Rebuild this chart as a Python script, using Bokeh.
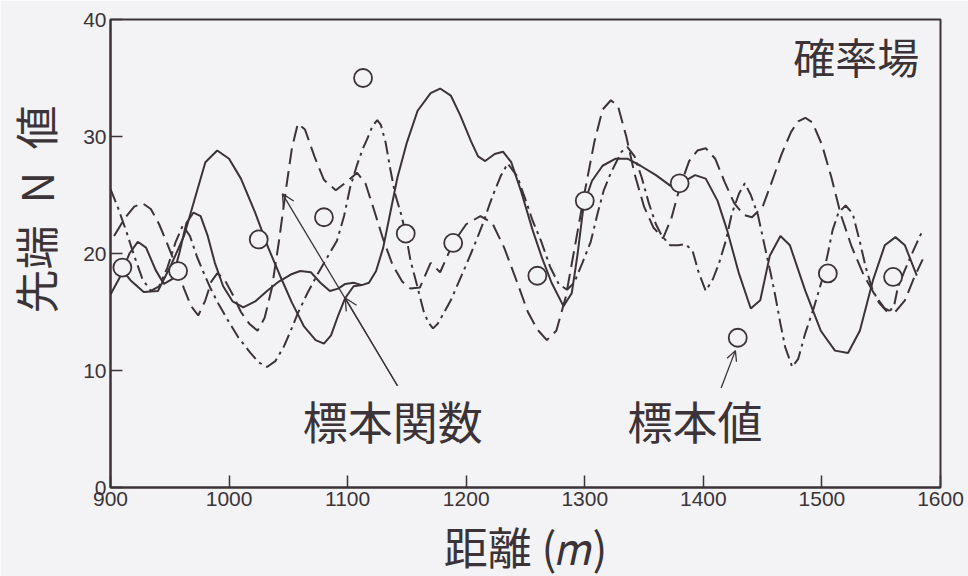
from bokeh.plotting import figure
from bokeh.models import Range1d, FixedTicker, Label, Arrow, OpenHead
from bokeh.embed import file_html
from bokeh.resources import INLINE

# ---- data ----
solid_a_x = [905, 917, 928, 940, 951, 962, 972, 980, 990, 1000, 1010, 1022, 1033, 1043, 1053, 1063, 1073, 1080,
             1086, 1092, 1098, 1105, 1112, 1118, 1124, 1130, 1136, 1142, 1150, 1159, 1170, 1178, 1187, 1195, 1204,
             1210, 1216, 1224, 1231, 1238, 1246, 1256, 1264, 1272, 1282, 1289, 1294, 1299, 1306, 1315, 1326, 1336,
             1347, 1360, 1372, 1381, 1393, 1402, 1412, 1420, 1430, 1440, 1448, 1456, 1465, 1473, 1486, 1499, 1511,
             1522, 1532, 1543, 1553, 1562, 1570, 1580]
solid_a_y = [19.2, 17.7, 16.7, 16.8, 19.0, 21.5, 25.0, 27.8, 28.8, 28.1, 26.4, 23.5, 20.5, 18.1, 15.8, 13.8, 12.6, 12.3,
             13.0, 14.7, 16.2, 17.2, 17.3, 17.5, 18.5, 20.5, 23.5, 26.5, 29.5, 32.2, 33.7, 34.1, 33.5, 31.8, 29.6,
             28.3, 27.9, 28.5, 28.7, 27.8, 25.4, 22.0, 19.6, 17.5, 15.5, 16.6, 20.0, 24.1, 26.2, 27.5, 28.1, 28.1,
             27.5, 26.7, 25.8, 26.0, 26.7, 26.4, 24.5, 22.0, 18.3, 15.3, 16.0, 19.8, 21.5, 20.7, 16.8, 13.4, 11.7,
             11.5, 13.4, 17.7, 20.7, 21.4, 20.7, 18.1]

solid_b_x = [900, 908, 916, 923, 930, 938, 945, 952, 958, 964, 970, 976, 982, 988, 995, 1003, 1012, 1022, 1032,
             1042, 1052, 1060, 1069, 1077, 1085, 1092, 1098, 1105, 1112]
solid_b_y = [16.5, 18.0, 20.0, 21.0, 20.5, 18.6, 17.4, 17.8, 20.0, 22.6, 23.5, 23.2, 21.5, 19.2, 17.2, 15.9, 15.4,
             15.9, 16.8, 17.6, 18.2, 18.5, 18.4, 17.5, 16.8, 17.0, 17.4, 17.5, 17.3]

dashed_x = [903, 912, 920, 927, 934, 941, 948, 955, 962, 968, 974, 980, 985, 990, 996, 1003, 1010, 1017, 1024, 1030,
            1036, 1042, 1048, 1053, 1058, 1064, 1072, 1080, 1090, 1100, 1108, 1115, 1122, 1130, 1138, 1146, 1153,
            1161, 1170, 1178, 1189, 1200, 1212, 1222, 1232, 1242, 1252, 1260, 1268, 1276, 1284, 1292, 1300, 1308,
            1315, 1322, 1328, 1335, 1342, 1350, 1358, 1366, 1373, 1380, 1388, 1395, 1402, 1410, 1418, 1426, 1434,
            1441, 1450, 1458, 1466, 1474, 1480, 1486, 1492, 1500, 1508, 1516, 1525, 1535, 1545, 1553, 1561, 1570,
            1578, 1585]
dashed_y = [21.5, 23.0, 24.0, 24.3, 23.8, 22.5, 20.8, 19.0, 17.0, 15.5, 14.7, 16.0, 17.6, 18.3, 17.8, 16.5, 15.0,
            14.0, 13.4, 14.5, 17.0, 21.0, 25.5, 29.0, 31.1, 30.6, 28.3, 26.3, 25.4, 26.2, 26.9, 26.0, 23.8, 21.2,
            19.0, 17.6, 17.0, 17.1, 19.2, 18.4, 20.9, 22.5, 23.2, 22.6, 20.5, 17.8, 15.0, 13.5, 12.6, 13.4, 16.3,
            20.8, 25.3, 29.5, 32.3, 33.1, 32.6, 30.0, 26.8, 24.0, 22.2, 21.3, 23.0, 25.6, 27.9, 28.8, 29.0, 28.1,
            26.1, 24.3, 23.3, 23.1, 24.0, 26.2, 28.5, 30.4, 31.3, 31.6, 31.2, 29.3, 26.5, 23.3, 20.6, 18.2, 16.4,
            15.3, 14.9, 16.0, 18.0, 19.5]

dashdot_x = [900, 906, 913, 920, 927, 934, 941, 948, 955, 961, 967, 973, 978, 984, 991, 999, 1008, 1018, 1025, 1032,
             1039, 1046, 1052, 1058, 1066, 1075, 1083, 1091, 1097, 1102, 1108, 1113, 1117, 1121, 1125, 1128, 1132,
             1136, 1140, 1145, 1149, 1153, 1159, 1164, 1168, 1172, 1176, 1181, 1187, 1193, 1199, 1204, 1210, 1215,
             1219, 1223, 1229, 1235, 1243, 1250, 1256, 1263, 1271, 1278, 1285, 1291, 1298, 1305, 1311, 1316, 1322,
             1327, 1331, 1336, 1342, 1348, 1354, 1360, 1365, 1372, 1379, 1385, 1391, 1396, 1402, 1408, 1413, 1419,
             1424, 1430, 1435, 1440, 1446, 1452, 1457, 1461, 1465, 1469, 1475, 1480, 1486, 1493, 1500, 1505, 1509,
             1514, 1520, 1526, 1532, 1537, 1542, 1548, 1556, 1561, 1564, 1570, 1576, 1585]
dashdot_y = [25.5, 24.0, 22.0, 19.8, 17.8, 16.8, 17.2, 18.8, 21.0, 22.4, 21.5, 19.7, 18.5, 17.1, 15.7, 14.3, 12.8,
             11.5, 10.7, 10.3, 10.8, 12.0, 13.4, 14.9, 16.6, 18.3, 19.7, 21.1, 23.2, 25.6, 27.6, 29.0, 29.9, 30.9,
             31.4, 31.0, 29.5, 27.2, 25.1, 23.4, 21.7, 19.4, 17.1, 15.1, 14.1, 13.6, 14.0, 14.9, 16.0, 17.4, 18.8,
             20.0, 21.5, 22.8, 24.0, 25.1, 26.6, 27.7, 26.6, 24.6, 22.8, 21.1, 18.8, 17.4, 16.9, 17.5, 19.2, 21.0,
             23.5, 25.4, 26.9, 27.9, 28.7, 29.1, 28.3, 26.5, 24.3, 22.5, 21.5, 20.7, 20.7, 20.8, 20.2, 18.4, 16.8,
             17.8, 19.1, 21.1, 23.4, 25.1, 26.0, 25.0, 23.3, 20.5, 18.2, 16.2, 14.0, 12.0, 10.3, 11.0, 13.2, 15.3,
             17.7, 20.0, 22.0, 23.5, 24.1, 23.4, 21.0, 18.8, 17.1, 15.8, 14.9, 15.6, 17.1, 18.6, 20.0, 22.0]

sample_x = [910, 957, 1025, 1080, 1113, 1149, 1189, 1260, 1300, 1380, 1429, 1505, 1560]
sample_y = [18.8, 18.5, 21.2, 23.1, 35.0, 21.7, 20.9, 18.1, 24.5, 26.0, 12.8, 18.3, 18.0]

x_ticks = [900, 1000, 1100, 1200, 1300, 1400, 1500, 1600]
y_ticks = [0, 10, 20, 30, 40]

title_text = "確率場"
func_label = "標本関数"
value_label = "標本値"
y_label = "\u3000\u3000先端\u2002N\u2002値"
x_label = "距離 (\U0001D45A)"

# ---- styling ----
INK = "#3b3337"
BG = "#f3f3f5"
CJK = "Noto Sans CJK JP"

p = figure(frame_width=830, frame_height=468, output_backend="svg", toolbar_location=None,
           x_range=Range1d(900, 1600), y_range=Range1d(0, 40),
           min_border_left=105, min_border_right=32, min_border_top=19, min_border_bottom=88)
p.background_fill_color = BG
p.border_fill_color = BG
p.outline_line_color = INK
p.outline_line_width = 2
p.xgrid.grid_line_color = None
p.ygrid.grid_line_color = None

for ax, ticks in ((p.xaxis[0], x_ticks), (p.yaxis[0], y_ticks)):
    ax.ticker = FixedTicker(ticks=ticks)
    ax.axis_line_color = INK
    ax.axis_line_width = 2
    ax.major_tick_in = 12
    ax.major_tick_out = 0
    ax.major_tick_line_color = INK
    ax.major_tick_line_width = 1.5
    ax.minor_tick_line_color = None
    ax.major_label_text_font = "Liberation Sans"
    ax.major_label_text_font_size = "21px"
    ax.major_label_text_color = INK
    ax.major_label_standoff = 4
    ax.axis_label_text_font = CJK
    ax.axis_label_text_font_size = "44px"
    ax.axis_label_text_font_style = "normal"
    ax.axis_label_text_color = INK

p.yaxis.axis_label = y_label
p.yaxis.axis_label_standoff = 13
p.xaxis.axis_label = x_label
p.xaxis.axis_label_standoff = 5

lw = 2
p.line(solid_a_x, solid_a_y, line_color=INK, line_width=lw)
p.line(solid_b_x, solid_b_y, line_color=INK, line_width=lw)
p.line(dashed_x, dashed_y, line_color=INK, line_width=lw, line_dash="16 7")
p.line(dashdot_x, dashdot_y, line_color=INK, line_width=lw, line_dash="14 5 3 5")

p.scatter(sample_x, sample_y, marker="circle", size=18, fill_color=BG, line_color=INK, line_width=1.8)

# arrows
p.add_layout(Arrow(x_start=1142, y_start=8.7, x_end=1045, y_end=25.1, line_color=INK, line_width=1.3,
                   end=OpenHead(size=12, line_color=INK, line_width=1.3)))
p.add_layout(Arrow(x_start=1142, y_start=8.7, x_end=1098, y_end=16.2, line_color=INK, line_width=1.3,
                   end=OpenHead(size=12, line_color=INK, line_width=1.3)))
p.add_layout(Arrow(x_start=1415, y_start=8.5, x_end=1427, y_end=11.7, line_color=INK, line_width=1.3,
                   end=OpenHead(size=10, line_color=INK, line_width=1.3)))

def lab(x, y, t, size):
    p.add_layout(Label(x=x, y=y, text=t, text_font=CJK, text_font_size=size, text_color=INK,
                       text_align="center", text_baseline="middle"))

lab(1529, 36.9, title_text, "42px")
lab(1138, 5.7, func_label, "45px")
lab(1393, 5.7, value_label, "45px")

open("out.html", "w").write(file_html(p, INLINE))
